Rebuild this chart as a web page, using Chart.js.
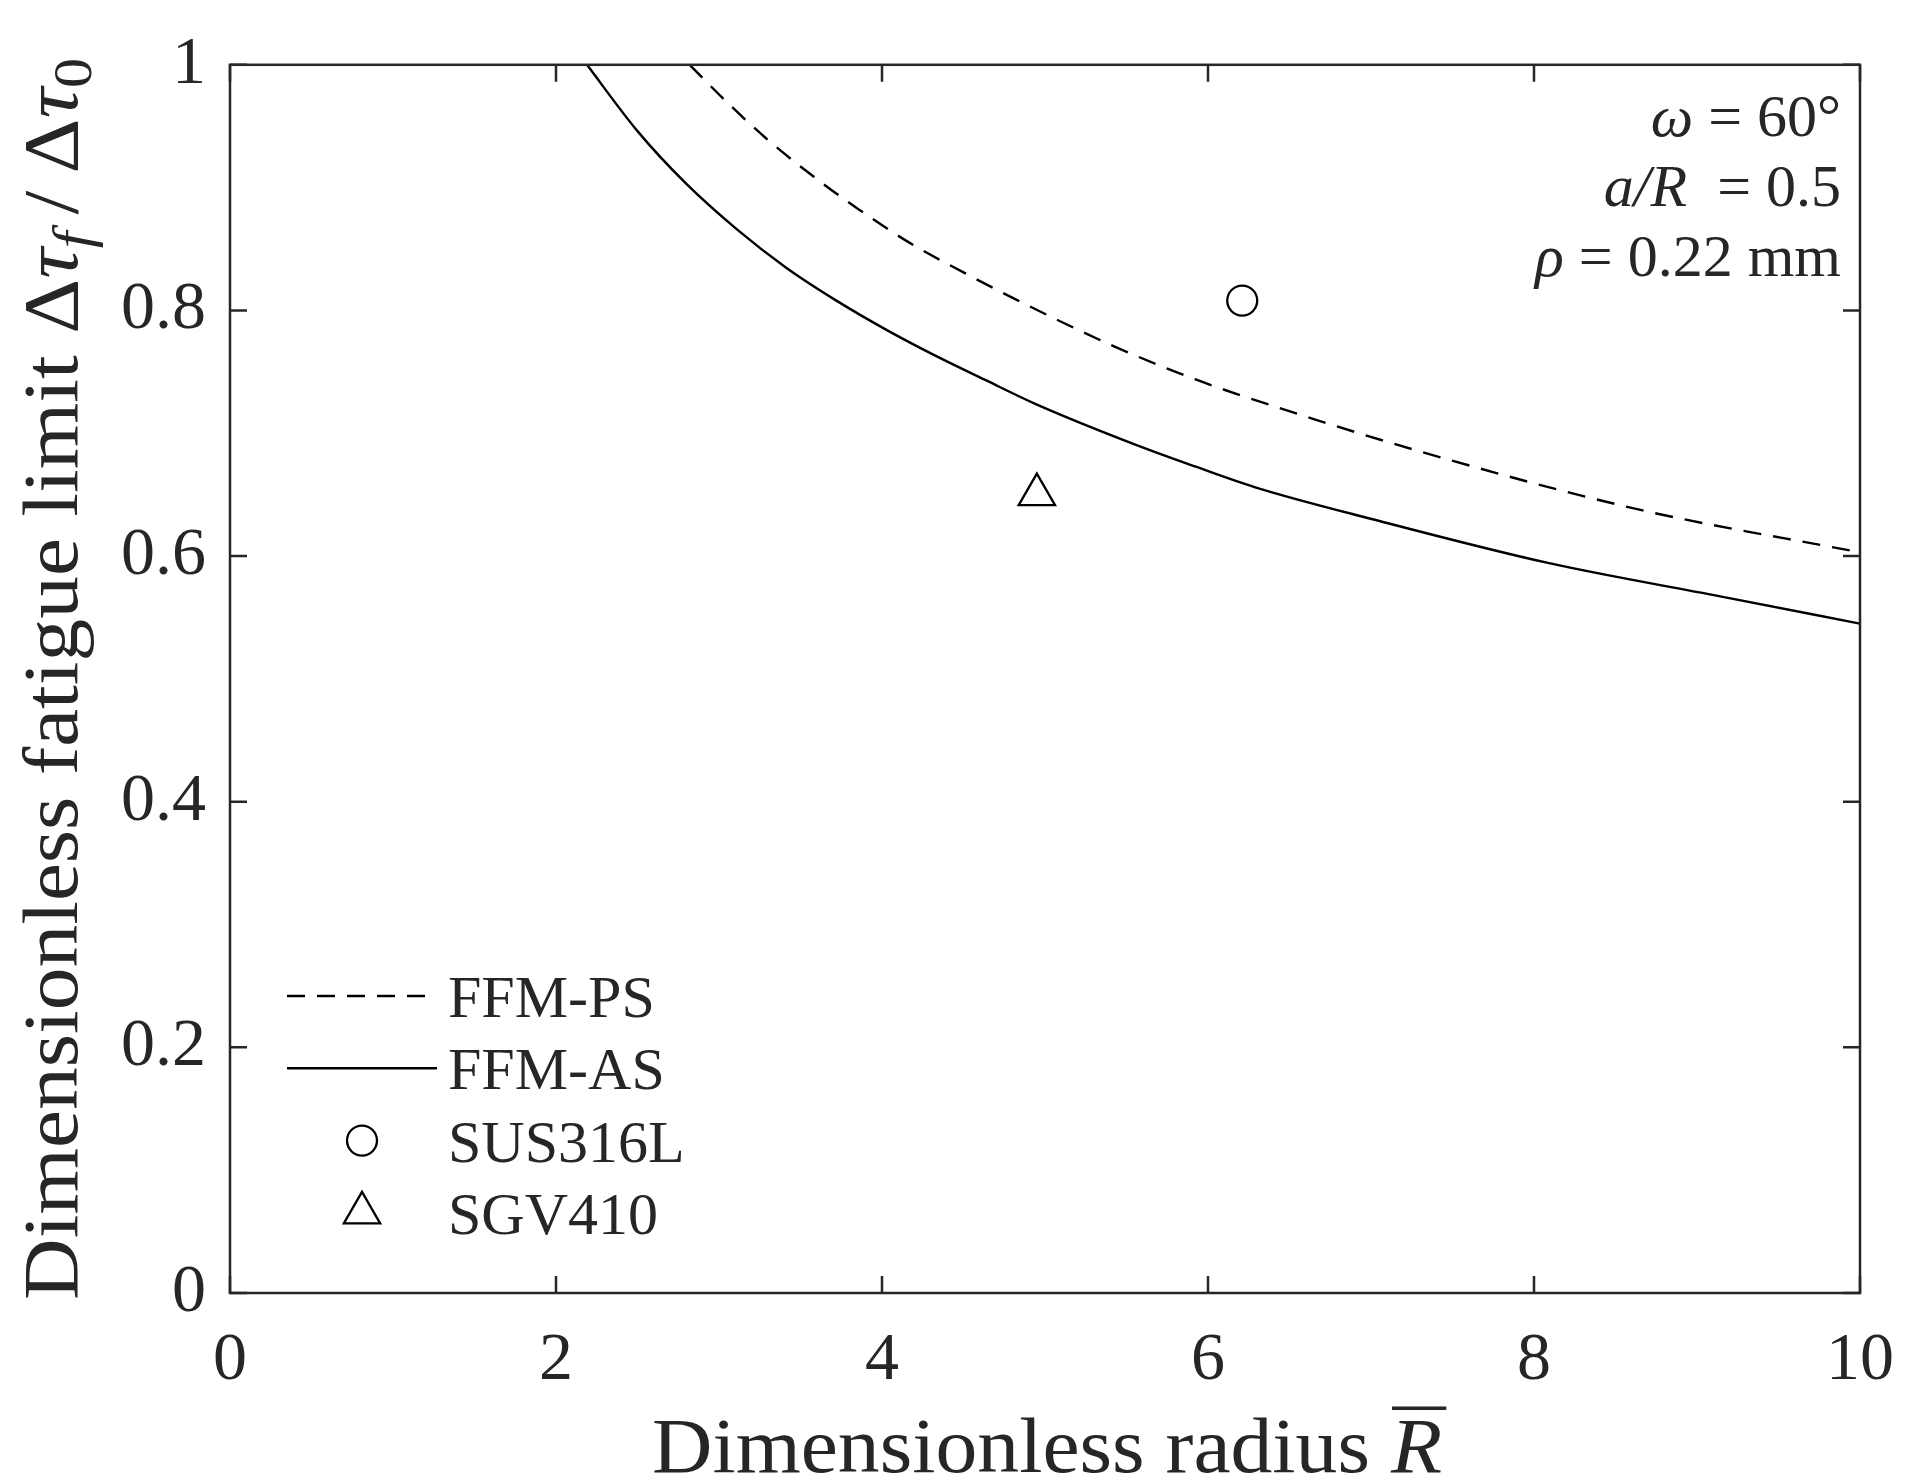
<!DOCTYPE html>
<html>
<head>
<meta charset="utf-8">
<script src="https://cdn.jsdelivr.net/npm/chart.js@4.4.1/dist/chart.umd.min.js"></script>
<style>
  html, body { margin: 0; padding: 0; background: #fff; overflow: hidden; }
  #wrap { width: 1921px; height: 1481px; }
</style>
</head>
<body>
<div id="wrap"><canvas id="fatigueChart" width="1921" height="1481"></canvas></div>
<script>
// Dữ liệu (bán kính không thứ nguyên / giới hạn mỏi không thứ nguyên)
const radiusPS = [2.82, 3.03, 3.29, 3.58, 3.86, 4.17, 4.50, 4.82, 5.42, 5.92, 6.29, 7.28, 8.64, 10.0];
const limitPS  = [1.000, 0.972, 0.940, 0.909, 0.882, 0.855, 0.831, 0.809, 0.771, 0.744, 0.727, 0.686, 0.638, 0.603];

const radiusAS = [2.19, 2.50, 2.80, 3.11, 3.41, 3.72, 4.03, 4.33, 4.64, 4.94, 5.55, 5.92, 6.29, 7.01, 8.10, 9.19, 10.0];
const limitAS  = [1.000, 0.946, 0.903, 0.866, 0.835, 0.808, 0.784, 0.763, 0.743, 0.724, 0.691, 0.673, 0.656, 0.630, 0.594, 0.566, 0.545];

const radiusSUS = [6.21];
const limitSUS  = [0.808];
const radiusSGV = [4.95];
const limitSGV  = [0.650];

const xTicks = [0, 2, 4, 6, 8, 10];
const yTicks = [0, 0.2, 0.4, 0.6, 0.8, 1];
const seriesNames = ['FFM-PS', 'FFM-AS', 'SUS316L', 'SGV410'];

const SERIF = "'Liberation Serif', 'Times New Roman', serif";
const INK = '#262626';
// Vị trí khung vẽ mong muốn (pixel)
const PLOT = { left: 230, top: 34, right: 1868, bottom: 1293 };

function toPoints(xs, ys) {
  return xs.map((x, i) => ({ x: x, y: ys[i] }));
}

// Đo và vẽ một dòng chữ gồm nhiều đoạn font khác nhau
function measureSegs(ctx, segs) {
  let total = 0;
  segs.forEach(s => {
    ctx.font = s.font;
    s.x0 = total;
    s.w = ctx.measureText(s.text).width;
    total += s.w;
  });
  return total;
}

function drawSegs(ctx, segs, startX, y) {
  segs.forEach(s => {
    ctx.font = s.font;
    ctx.fillText(s.text, startX + s.x0, y + (s.dy || 0));
  });
}

// Khung trục + vạch chia hướng vào trong
const boxTicksPlugin = {
  id: 'boxTicks',
  afterDatasetsDraw(chart) {
    const { ctx, chartArea: a, scales } = chart;
    const len = 17;
    ctx.save();
    ctx.strokeStyle = INK;
    ctx.lineWidth = 2.5;
    ctx.beginPath();
    scales.x.ticks.forEach(t => {
      const px = scales.x.getPixelForValue(t.value);
      ctx.moveTo(px, a.bottom); ctx.lineTo(px, a.bottom - len);
      ctx.moveTo(px, a.top); ctx.lineTo(px, a.top + len);
    });
    scales.y.ticks.forEach(t => {
      const py = scales.y.getPixelForValue(t.value);
      ctx.moveTo(a.left, py); ctx.lineTo(a.left + len, py);
      ctx.moveTo(a.right, py); ctx.lineTo(a.right - len, py);
    });
    ctx.stroke();
    ctx.strokeRect(a.left, a.top, a.right - a.left, a.bottom - a.top);
    ctx.restore();
  }
};

// Chú thích góc dưới bên trái
const legendPlugin = {
  id: 'innerLegend',
  afterDraw(chart) {
    const { ctx, chartArea: a } = chart;
    const x0 = a.left + 57, x1 = a.left + 207, xm = a.left + 132;
    const textX = a.left + 218;
    const rowTop = a.bottom - 297, rowGap = 72.3;
    ctx.save();
    ctx.font = '60px ' + SERIF;
    ctx.fillStyle = INK;
    ctx.textBaseline = 'alphabetic';
    chart.data.datasets.forEach((ds, i) => {
      const y = rowTop + i * rowGap;
      ctx.save();
      ctx.strokeStyle = ds.borderColor;
      ctx.lineWidth = ds.borderWidth;
      if (ds.showLine) {
        ctx.setLineDash(ds.borderDash || []);
        ctx.beginPath();
        ctx.moveTo(x0, y); ctx.lineTo(x1, y);
        ctx.stroke();
      } else {
        ctx.fillStyle = 'rgba(0,0,0,0)';
        Chart.helpers.drawPoint(ctx, { pointStyle: ds.pointStyle, radius: ds.pointRadius, borderWidth: ds.borderWidth, rotation: 0 }, xm, y);
      }
      ctx.restore();
      ctx.fillText(ds.label, textX, y + 21);
    });
    ctx.restore();
  }
};

// Tiêu đề trục và các thông số góc trên bên phải
const textPlugin = {
  id: 'axisTexts',
  afterDraw(chart) {
    const { ctx, chartArea: a } = chart;
    ctx.save();
    ctx.fillStyle = INK;
    ctx.textBaseline = 'alphabetic';

    // Trục x
    const fx = 78;
    const xSegs = [
      { text: 'Dimensionless radius ', font: fx + 'px ' + SERIF },
      { text: 'R', font: 'italic ' + fx + 'px ' + SERIF }
    ];
    const wx = measureSegs(ctx, xSegs);
    const kx = 790 / wx;
    const cx = (a.left + a.right) / 2 + 2;
    ctx.save();
    ctx.translate(cx, 1472);
    ctx.scale(kx, 1);
    drawSegs(ctx, xSegs, -wx / 2, 0);
    const r = xSegs[1];
    ctx.fillRect(-wx / 2 + r.x0 + 1, -fx * 0.84, r.w + 3, 3.5);
    ctx.restore();

    // Trục y
    const fy = 78, fs = 55;
    const ySegs = [
      { text: 'Dimensionless fatigue limit ', font: fy + 'px ' + SERIF },
      { text: 'Δ', font: fy + 'px ' + SERIF },
      { text: 'τ', font: 'italic ' + fy + 'px ' + SERIF },
      { text: 'f', font: 'italic ' + fs + 'px ' + SERIF, dy: 14 },
      { text: '\u2009/\u2009', font: fy + 'px ' + SERIF },
      { text: 'Δ', font: fy + 'px ' + SERIF },
      { text: 'τ', font: 'italic ' + fy + 'px ' + SERIF },
      { text: '0', font: fs + 'px ' + SERIF, dy: 14 }
    ];
    const wy = measureSegs(ctx, ySegs);
    const ky = 1242 / wy;
    ctx.save();
    ctx.translate(77, (a.top + a.bottom) / 2);
    ctx.rotate(-Math.PI / 2);
    ctx.scale(ky, 1);
    drawSegs(ctx, ySegs, -wy / 2, 0);
    ctx.restore();

    // Thông số
    const fa = 60;
    const right = a.right - 19;
    const lines = [
      [{ text: 'ω', font: 'italic ' + fa + 'px ' + SERIF }, { text: ' = 60°', font: fa + 'px ' + SERIF }],
      [{ text: 'a/R', font: 'italic ' + fa + 'px ' + SERIF }, { text: '  = 0.5', font: fa + 'px ' + SERIF }],
      [{ text: 'ρ', font: 'italic ' + fa + 'px ' + SERIF }, { text: ' = 0.22 mm', font: fa + 'px ' + SERIF }]
    ];
    lines.forEach((segs, i) => {
      const w = measureSegs(ctx, segs);
      drawSegs(ctx, segs, right - w, a.top + 71 + i * 70);
    });
    ctx.restore();
  }
};

const ctx = document.getElementById('fatigueChart').getContext('2d');

const chart = new Chart(ctx, {
  type: 'scatter',
  data: {
    datasets: [
      {
        label: seriesNames[0],
        data: toPoints(radiusPS, limitPS),
        showLine: true,
        borderColor: '#000000',
        borderWidth: 2.4,
        borderDash: [18, 12],
        pointRadius: 0,
        cubicInterpolationMode: 'monotone'
      },
      {
        label: seriesNames[1],
        data: toPoints(radiusAS, limitAS),
        showLine: true,
        borderColor: '#000000',
        borderWidth: 2.4,
        pointRadius: 0,
        cubicInterpolationMode: 'monotone'
      },
      {
        label: seriesNames[2],
        data: toPoints(radiusSUS, limitSUS),
        showLine: false,
        pointStyle: 'circle',
        pointRadius: 15,
        borderColor: '#000000',
        backgroundColor: 'rgba(0,0,0,0)',
        borderWidth: 2.3
      },
      {
        label: seriesNames[3],
        data: toPoints(radiusSGV, limitSGV),
        showLine: false,
        pointStyle: 'triangle',
        pointRadius: 21,
        borderColor: '#000000',
        backgroundColor: 'rgba(0,0,0,0)',
        borderWidth: 2.3
      }
    ]
  },
  options: {
    responsive: false,
    devicePixelRatio: 1,
    animation: false,
    layout: {
      autoPadding: false,
      padding: { left: 0, right: 1921 - PLOT.right, top: PLOT.top, bottom: 0 }
    },
    plugins: {
      legend: { display: false },
      tooltip: { enabled: false }
    },
    scales: {
      x: {
        type: 'linear',
        min: 0,
        max: 10,
        afterBuildTicks: s => { s.ticks = xTicks.map(v => ({ value: v })); },
        afterFit: s => { s.height = 1481 - PLOT.bottom; },
        grid: { display: false, drawTicks: false },
        border: { display: false },
        ticks: {
          padding: 27,
          color: INK,
          font: { family: SERIF, size: 68 },
          callback: v => String(v)
        }
      },
      y: {
        type: 'linear',
        min: 0,
        max: 1,
        afterBuildTicks: s => { s.ticks = yTicks.map(v => ({ value: v })); },
        afterFit: s => { s.width = PLOT.left; },
        grid: { display: false, drawTicks: false },
        border: { display: false },
        ticks: {
          padding: 24,
          color: INK,
          font: { family: SERIF, size: 68 },
          callback: v => String(v)
        }
      }
    }
  },
  plugins: [boxTicksPlugin, legendPlugin, textPlugin]
});
</script>
</body>
</html>
